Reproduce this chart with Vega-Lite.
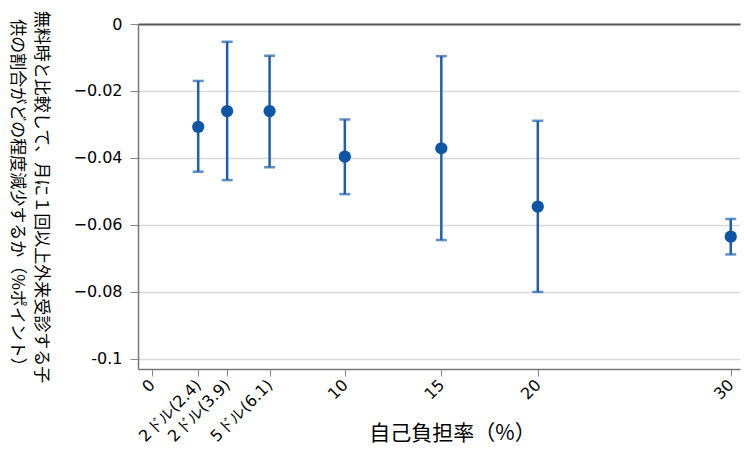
{
  "$schema": "https://vega.github.io/schema/vega-lite/v6.json",
  "width": 602,
  "height": 345,
  "autosize": {"type": "none"},
  "padding": {"left": 138, "top": 24, "right": 4, "bottom": 82},
  "background": "white",
  "config": {
    "view": {"stroke": null},
    "font": "DejaVu Sans"
  },
  "data": {
    "values": [
      {"rate": 2.4, "est": -0.0307, "lo": -0.0441, "hi": -0.0170},
      {"rate": 3.9, "est": -0.0260, "lo": -0.0466, "hi": -0.0053},
      {"rate": 6.1, "est": -0.0260, "lo": -0.0428, "hi": -0.0095},
      {"rate": 10, "est": -0.0396, "lo": -0.0508, "hi": -0.0285},
      {"rate": 15, "est": -0.0371, "lo": -0.0645, "hi": -0.0096},
      {"rate": 20, "est": -0.0545, "lo": -0.0800, "hi": -0.0289},
      {"rate": 30, "est": -0.0635, "lo": -0.0688, "hi": -0.0582}
    ]
  },
  "encoding": {
    "x": {
      "field": "rate",
      "type": "quantitative",
      "scale": {"domain": [-0.72, 30.48], "nice": false, "zero": false},
      "axis": {
        "title": "自己負担率（%）",
        "titleFont": "Noto Sans CJK JP",
        "titleFontSize": 21,
        "titleFontWeight": "normal",
        "titleColor": "#000",
        "titleX": 314,
        "titleY": 64,
        "titleBaseline": "middle",
        "titleAlign": "center",
        "values": [0, 2.4, 3.9, 6.1, 10, 15, 20, 30],
        "labelExpr": "datum.value == 2.4 ? '2ドル(2.4)' : datum.value == 3.9 ? '2ドル(3.9)' : datum.value == 6.1 ? '5ドル(6.1)' : datum.label",
        "labelAngle": -45,
        "labelAlign": "right",
        "labelBaseline": "middle",
        "labelFont": "DejaVu Sans",
        "labelFontSize": 16,
        "labelColor": "#000",
        "labelPadding": 6,
        "labelOverlap": false,
        "grid": false,
        "domainColor": "#777",
        "domainWidth": 1.5,
        "tickColor": "#888",
        "tickSize": 7
      }
    }
  },
  "layer": [
    {
      "mark": {"type": "rule", "color": "#1f5fae", "strokeWidth": 2.5},
      "encoding": {
        "y": {
          "field": "lo",
          "type": "quantitative",
          "scale": {"domain": [-0.103, 0], "nice": false, "zero": false},
          "axis": {
            "title": ["無料時と比較して、月に１回以上外来受診する子", "供の割合がどの程度減少するか（%ポイント）"],
            "titleFont": "Noto Sans CJK JP",
            "titleFontSize": 17,
            "titleFontWeight": "normal",
            "titleColor": "#000",
            "titleAngle": 90,
            "titleLineHeight": 24,
            "titleBaseline": "top",
            "titleX": -90,
            "values": [0, -0.02, -0.04, -0.06, -0.08, -0.1],
            "labelExpr": "datum.value == 0 ? '0' : datum.value == -0.1 ? '-0.1' : format(datum.value, '.2f')",
            "labelFont": "DejaVu Sans",
            "labelFontSize": 16,
            "labelColor": "#000",
            "labelPadding": 8,
            "grid": true,
            "gridColor": {"condition": {"test": "datum.value === 0", "value": "#555"}, "value": "#d9d9d9"},
            "gridWidth": {"condition": {"test": "datum.value === 0", "value": 2}, "value": 1.5},
            "domainColor": "#777",
            "domainWidth": 1.5,
            "tickColor": "#888",
            "tickSize": 8
          }
        },
        "y2": {"field": "hi"}
      }
    },
    {
      "mark": {"type": "tick", "color": "#1f5fae", "thickness": 2.5, "size": 11, "orient": "horizontal"},
      "encoding": {"y": {"field": "lo", "type": "quantitative"}}
    },
    {
      "mark": {"type": "tick", "color": "#1f5fae", "thickness": 2.5, "size": 11, "orient": "horizontal"},
      "encoding": {"y": {"field": "hi", "type": "quantitative"}}
    },
    {
      "mark": {"type": "point", "filled": true, "color": "#0d56a6", "opacity": 1, "size": 150},
      "encoding": {"y": {"field": "est", "type": "quantitative"}}
    }
  ]
}
